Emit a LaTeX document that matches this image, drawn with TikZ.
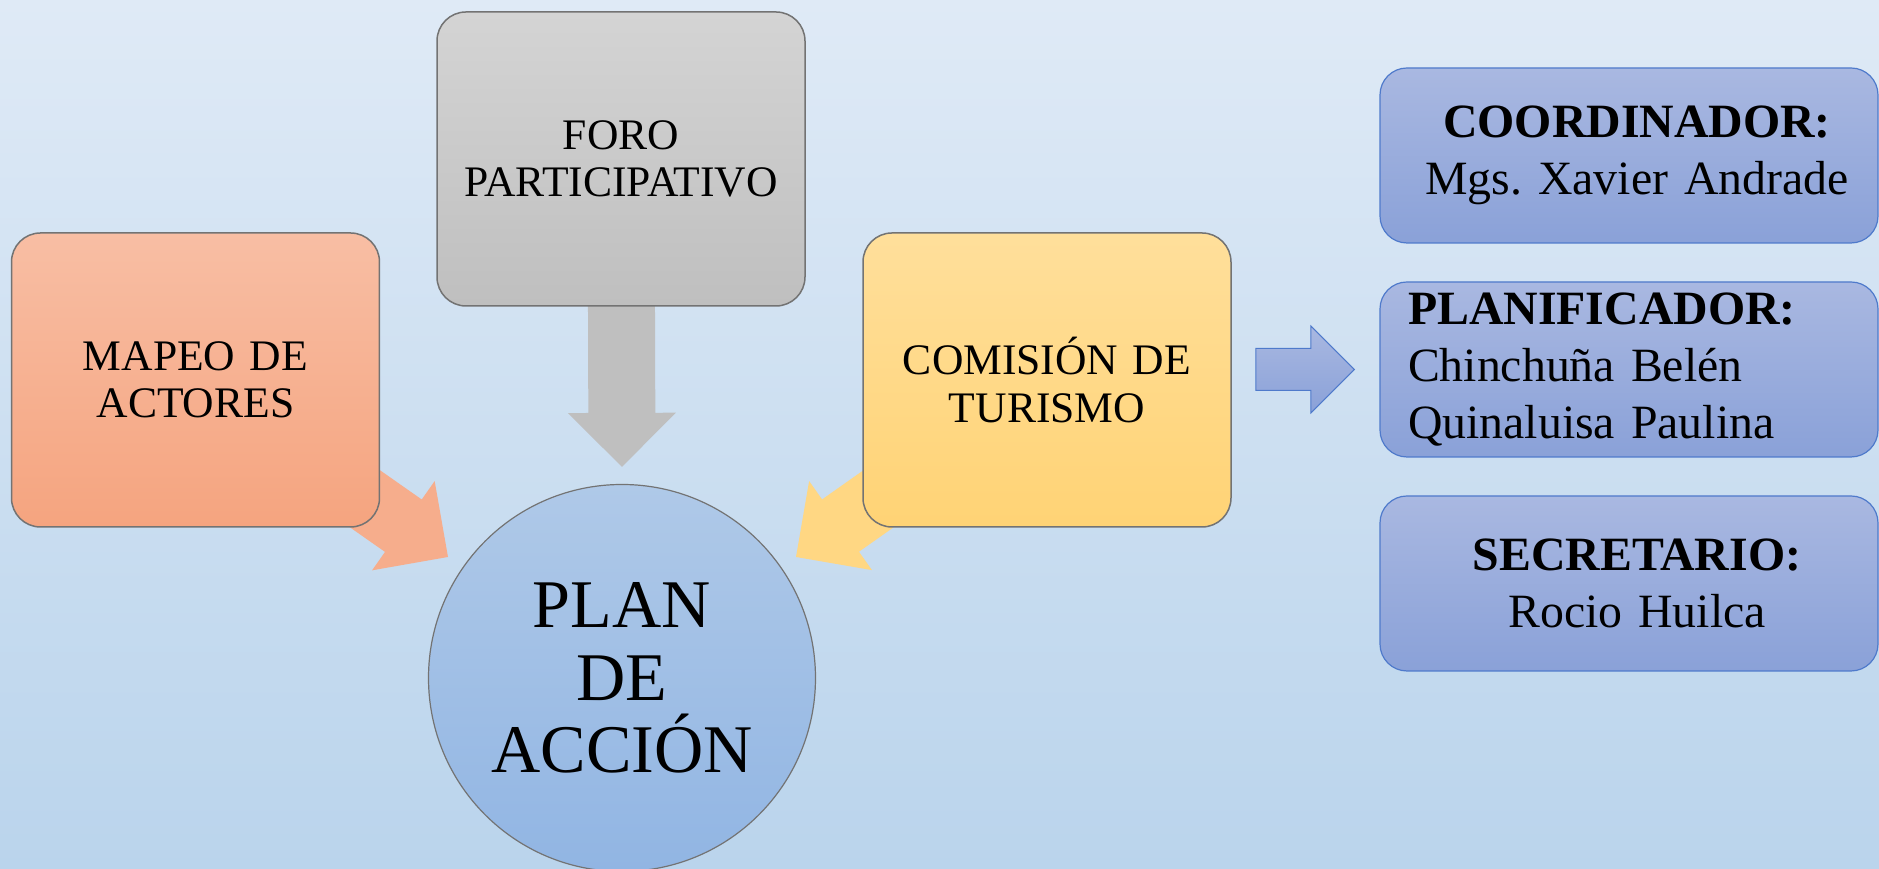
\documentclass[tikz,border=0pt]{standalone}
\usepackage{fontspec}
\setmainfont{Liberation Serif}
\usetikzlibrary{calc}
\frenchspacing

\definecolor{fondoarriba}{HTML}{DFEAF6}
\definecolor{fondoabajo}{HTML}{BAD4EC}
\definecolor{naranjaarriba}{HTML}{F8BEA4}
\definecolor{naranjaabajo}{HTML}{F5A47F}
\definecolor{grisarriba}{HTML}{D4D4D4}
\definecolor{grisabajo}{HTML}{BFBFBF}
\definecolor{amarilloarriba}{HTML}{FFDF9B}
\definecolor{amarilloabajo}{HTML}{FFD375}
\definecolor{azularriba}{HTML}{A9B8E1}
\definecolor{azulabajo}{HTML}{8AA1D8}
\definecolor{bordeazul}{HTML}{4F7ACB}
\definecolor{circuloarriba}{HTML}{AFC9E8}
\definecolor{circuloabajo}{HTML}{91B5E3}

\pgfdeclarelayer{fondo}
\pgfdeclarelayer{flechas}
\pgfsetlayers{fondo,flechas,main}

% flecha de bloque: opciones, cola, punta, media anchura del cuerpo, media anchura de la punta
\newcommand{\flechabloque}[5]{%
  \coordinate (fb-base) at ($(#3)!#5!(#2)$);
  \path[#1] ($(#2)!#4!90:(#3)$) -- ($(fb-base)!#4!-90:(#2)$) -- ($(fb-base)!#5!-90:(#2)$) -- (#3)
    -- ($(fb-base)!#5!90:(#2)$) -- ($(fb-base)!#4!90:(#2)$) -- ($(#2)!#4!-90:(#3)$) -- cycle;
}

\tikzset{
  bloque/.style={draw=black!55, line width=0.15mm, rectangle, rounded corners=2.9mm, minimum width=36.8mm, minimum height=29.4mm, text width=34mm, align=center, inner sep=0pt, font=\fontsize{12.4pt}{13.4pt}\selectfont},
  cargo/.style={draw=bordeazul, line width=0.12mm, rectangle, rounded corners=2.7mm, top color=azularriba, bottom color=azulabajo, minimum height=17.5mm, text width=44.2mm, inner xsep=2.8mm, inner ysep=0.5mm, font=\fontsize{13.6pt}{16.2pt}\selectfont},
  circulo/.style={draw=black!55, line width=0.12mm, circle, minimum size=38.7mm, inner sep=0pt, align=center, top color=circuloarriba, bottom color=circuloabajo, font=\fontsize{19.4pt}{20.6pt}\selectfont}
}

\begin{document}
\begin{tikzpicture}[x=0.1mm, y=0.1mm]

\useasboundingbox (0,0) rectangle (1879,869);
\begin{pgfonlayer}{fondo}
\shade[top color=fondoarriba, bottom color=fondoabajo] (0,0) rectangle (1879,869);
\end{pgfonlayer}

\node[bloque, top color=naranjaarriba, bottom color=naranjaabajo] (mapeo) at (195.5,489) {MAPEO DE\\ACTORES};
\node[bloque, top color=grisarriba, bottom color=grisabajo] (foro) at (621,710) {FORO\\PARTICIPATIVO};
\node[bloque, top color=amarilloarriba, bottom color=amarilloabajo] (comision) at (1047,489) {COMISIÓN DE\\TURISMO};

\node[circulo] (plan) at (622,191) {PLAN\\DE\\ACCIÓN};

\node[cargo, align=center] (coordinador) at (1629,713.5) {\hspace*{1.6mm}\textbf{COORDINADOR:}\\\hspace*{1.6mm}Mgs. Xavier Andrade};
\node[cargo, align=left] (planificador) at (1629,499.5) {\textbf{PLANIFICADOR:}\\Chinchuña Belén\\Quinaluisa Paulina};
\node[cargo, align=center] (secretario) at (1629,285.5) {\hspace*{1.6mm}\textbf{SECRETARIO:}\\\hspace*{1.6mm}Rocio Huilca};

% puntas de las flechas
\coordinate (puntaG) at ($(plan.north)+(0,17)$);
\coordinate (puntaN) at (448,312);
\coordinate (puntaA) at (796,312);
\coordinate (colaB) at ($(comision.east |- planificador.west)+(24,0)$);
\coordinate (puntaB) at ($(planificador.west)+(-25,0)$);

\begin{pgfonlayer}{flechas}
\flechabloque{fill=grisabajo}{foro.center}{puntaG}{3.35mm}{5.4mm}
\flechabloque{fill=naranjaabajo!90!white}{mapeo.center}{puntaN}{3.2mm}{5.45mm}
\flechabloque{fill=amarilloabajo!90!white}{comision.center}{puntaA}{3.2mm}{5.45mm}
\flechabloque{top color=azularriba, bottom color=azulabajo, draw=bordeazul, line width=0.1mm}{colaB}{puntaB}{2.1mm}{4.35mm}
\end{pgfonlayer}

\end{tikzpicture}
\end{document}
